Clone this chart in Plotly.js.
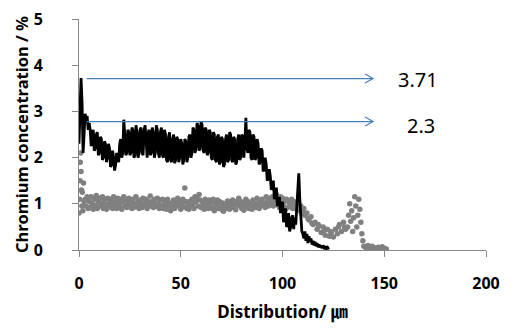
<!DOCTYPE html>
<html>
<head>
<meta charset="utf-8">
<script src="https://cdn.plot.ly/plotly-3.0.1.min.js"></script>
<style>html,body{margin:0;padding:0;background:#fff}#chart{width:517px;height:332px}</style>
</head>
<body>
<div id="chart"></div>
<script>
// Black line: chromium concentration profile (x in µm, y in %)
const lineX = [
0,0.5,1,1.5,2,2.5,3,3.5,4,4.5, 5,5.5,6,6.5,7,7.5,8,8.5,9,9.5,
10,10.5,11,11.5,12,12.5,13,13.5,14,14.5, 15,15.5,16,16.5,17,17.5,18,18.5,19,19.5,
20,20.5,21,21.5,22,22.5,23,23.5,24,24.5, 25,25.5,26,26.5,27,27.5,28,28.5,29,29.5,
30,30.5,31,31.5,32,32.5,33,33.5,34,34.5, 35,35.5,36,36.5,37,37.5,38,38.5,39,39.5,
40,40.5,41,41.5,42,42.5,43,43.5,44,44.5, 45,45.5,46,46.5,47,47.5,48,48.5,49,49.5,
50,50.5,51,51.5,52,52.5,53,53.5,54,54.5, 55,55.5,56,56.5,57,57.5,58,58.5,59,59.5,
60,60.5,61,61.5,62,62.5,63,63.5,64,64.5, 65,65.5,66,66.5,67,67.5,68,68.5,69,69.5,
70,70.5,71,71.5,72,72.5,73,73.5,74,74.5, 75,75.5,76,76.5,77,77.5,78,78.5,79,79.5,
80,80.5,81,81.5,82,82.5,83,83.5,84,84.5, 85,85.5,86,86.5,87,87.5,88,88.5,89,89.5,
90,90.5,91,91.5,92,92.5,93,93.5,94,94.5, 95,95.5,96,96.5,97,97.5,98,98.5,99,99.5,
100,100.5,101,101.5,102,102.5,103,103.5,104,104.5, 105,105.5,106,106.5,107,107.5,108,108.5,109,109.5,
110,110.5,111,111.5,112,112.5,113,113.5,114,114.5, 115,115.5,116,116.5,117,117.5,118,118.5,119,119.5,
120,120.5,121,121.5,122,122.5,123];
const lineY = [
2.3,3.3,3.72,3.2,2.1,2.5,2.95,2.85,2.9,2.6, 2.75,2.6,2.25,2.5,2.6,2.15,2.2,2.5,2.55,2.05,
2.1,2.45,2.4,1.95,2.0,2.35,2.3,1.9,2.0,2.3, 2.2,1.8,1.85,2.15,2.0,1.72,1.85,2.1,2.05,1.9,
2.3,2.4,2.0,2.1,2.82,2.5,2.05,2.1,2.6,2.55, 2.05,2.1,2.65,2.6,2.0,2.05,2.7,2.55,2.0,2.1,
2.6,2.65,2.1,2.05,2.6,2.7,2.15,2.0,2.55,2.6, 2.05,2.1,2.65,2.55,2.0,2.1,2.7,2.6,2.1,2.0,
2.55,2.65,2.05,2.0,2.6,2.5,1.95,1.9,2.45,2.55, 1.95,1.9,2.4,2.5,1.88,1.95,2.45,2.4,1.9,2.0,
2.4,2.3,1.85,1.95,2.4,2.35,1.9,2.0,2.45,2.5, 2.0,2.1,2.65,2.6,2.1,2.2,2.75,2.7,2.15,2.2,
2.78,2.7,2.15,2.1,2.65,2.6,2.05,2.1,2.6,2.55, 2.0,1.95,2.55,2.5,1.95,1.9,2.45,2.5,1.85,1.9,
2.45,2.4,1.8,1.85,2.4,2.5,1.9,1.95,2.55,2.5, 1.95,1.9,2.45,2.4,1.85,1.9,2.4,2.5,1.95,2.0,
2.5,2.45,2.0,2.3,2.86,2.2,2.1,2.6,2.55,2.0, 1.95,2.5,2.45,1.95,2.0,2.4,2.3,1.85,1.9,2.2,
2.15,1.7,1.75,2.0,1.85,1.5,1.55,1.75,1.6,1.3, 1.4,1.5,1.1,1.2,1.35,0.95,1.05,1.15,0.8,0.95,
1.05,0.6,0.7,0.9,0.5,0.55,0.8,0.4,0.5,0.7, 0.75,0.45,0.7,0.55,0.9,1.3,1.66,1.1,0.6,0.4,
0.35,0.25,0.4,0.2,0.35,0.15,0.3,0.18,0.25,0.12, 0.2,0.1,0.18,0.08,0.15,0.06,0.12,0.05,0.1,0.04,
0.1,0.05,0.08,0.03,0.06,0.04,0.05];

// Gray dots: second profile (x in µm, y in %)
const dotX = [
0,0.3,0.5,0.6,0.8,1.0,1.2,1.4,1.6,1.9,2.2,2.5,3,3.5,4,4.5,
5,5.5,6,6.5,7,7.5,8,8.5,9,9.5, 10,10.5,11,11.5,12,12.5,13,13.5,14,14.5,
15,15.5,16,16.5,17,17.5,18,18.5,19,19.5, 20,20.5,21,21.5,22,22.5,23,23.5,24,24.5,
25,25.5,26,26.5,27,27.5,28,28.5,29,29.5, 30,30.5,31,31.5,32,32.5,33,33.5,34,34.5,
35,35.5,36,36.5,37,37.5,38,38.5,39,39.5, 40,40.5,41,41.5,42,42.5,43,43.5,44,44.5,
45,45.5,46,46.5,47,47.5,48,48.5,49,49.5, 50,50.5,51,51.5,52,52.5,53,53.5,54,54.5,
55,55.5,56,56.5,57,57.5,58,58.5,59,59.5, 60,60.5,61,61.5,62,62.5,63,63.5,64,64.5,
65,65.5,66,66.5,67,67.5,68,68.5,69,69.5, 70,70.5,71,71.5,72,72.5,73,73.5,74,74.5,
75,75.5,76,76.5,77,77.5,78,78.5,79,79.5, 80,80.5,81,81.5,82,82.5,83,83.5,84,84.5,
85,85.5,86,86.5,87,87.5,88,88.5,89,89.5, 90,90.5,91,91.5,92,92.5,93,93.5,94,94.5,
95,95.5,96,96.5,97,97.5,98,98.5,99,99.5, 100,100.5,101,101.5,102,102.5,103,103.5,104,104.5,
105,105.5,106,106.5,107,107.5,108,108.5,109,109.5,
110,110.5,111,112,112.5,113,114,114.5,115,116,117,117.5,118,119,120,120.5,121,122,123,123.5,
124,125,126,127,127.5,128,129,130,130.5,131,132,132.5,133,133.5,134,134.5,135,135.5,136,136.5,
137,137.5,138,138.5,139,139.5,140,141,142,143,144,145,146,147,148,149,150,151];
const dotY = [
0.8,1.1,1.5,1.9,2.1,1.7,1.3,0.95,1.25,0.85,1.45,1.05,1.1,0.95,1.15,0.9,
1.05,0.92,1.15,1.0,0.88,1.1,0.97,1.18,0.9,1.05, 1.12,0.95,1.02,1.15,0.9,1.08,0.98,0.88,1.12,1.0,
0.93,1.1,1.02,0.9,1.15,0.98,1.06,0.9,1.12,1.0, 0.95,1.1,0.88,1.05,1.15,0.95,1.08,0.92,1.0,1.12,
0.96,1.05,0.9,1.1,1.0,0.93,1.15,0.98,1.05,0.9, 1.08,1.0,0.92,1.12,1.0,0.95,1.1,0.9,1.05,0.98,
1.17,0.95,1.05,0.92,1.1,1.0,0.94,1.12,1.0,0.9, 1.08,0.96,1.1,0.9,1.05,0.98,0.88,1.1,0.95,1.02,
0.85,1.0,0.92,1.08,0.9,1.05,0.98,1.12,0.95,1.05, 0.88,1.0,1.1,0.93,1.34,1.05,0.9,1.0,0.88,1.05,
0.95,1.1,1.0,0.9,1.15,1.05,1.12,0.95,1.2,1.08, 0.92,1.05,1.0,0.88,1.1,0.95,1.02,0.9,1.08,0.96,
1.05,0.9,1.1,0.85,1.0,0.92,1.08,0.9,1.05,0.98, 0.88,1.02,0.84,0.95,1.0,0.9,1.06,0.95,0.88,1.03,
0.92,1.08,0.95,1.0,0.87,1.05,0.98,1.12,0.95,1.05, 0.9,1.02,0.86,0.97,1.1,0.93,1.05,0.9,1.0,0.95,
0.88,1.08,0.95,1.0,0.92,1.12,1.0,0.9,1.05,0.95, 1.1,0.98,1.0,0.92,1.15,1.05,0.95,1.12,1.0,1.08,
1.15,0.95,1.1,1.02,1.2,0.98,1.08,0.92,1.15,1.0, 1.12,0.95,1.05,0.88,1.1,0.92,1.05,1.0,0.95,1.1,
0.9,1.05,0.95,1.0,0.88,1.02,0.92,0.85,0.95,0.8,
0.82,0.9,0.75,0.8,0.68,0.65,0.72,0.58,0.55,0.6,0.45,0.55,0.52,0.38,0.5,0.42,0.32,0.45,0.3,0.4,
0.38,0.28,0.45,0.35,0.5,0.55,0.4,0.6,0.5,0.45,0.5,0.75,1.0,0.62,0.85,0.4,0.7,1.15,0.95,0.5,
0.75,1.1,0.88,0.6,0.35,0.2,0.08,0.05,0.1,0.03,0.08,0.05,0.02,0.06,0.03,0.07,0.04,0.02];

// Marker arrows and their labels
const arrowLevels = [3.71, 2.78];
const arrowStart = 3.8;
const arrowEnd = 144.5;
const arrowLabels = ['3.71', '2.3'];
const labelX = [0.833, 0.840];
const labelShift = [-1, -4];

const xTicks = [0, 50, 100, 150, 200];
const yTicks = [0, 1, 2, 3, 4, 5];

const FONT = 'Noto Sans, Noto Sans CJK KR, sans-serif';
const axisColor = '#868686';

const shapes = [];
const annotations = [];
arrowLevels.forEach((lv, i) => {
  shapes.push({type: 'line', xref: 'x', yref: 'y', x0: arrowStart, x1: arrowEnd, y0: lv, y1: lv,
    line: {color: '#4a7ebb', width: 1.2}});
  shapes.push({type: 'path', xref: 'x', yref: 'y', xsizemode: 'pixel', ysizemode: 'pixel',
    xanchor: arrowEnd, yanchor: lv, path: 'M-8,-4.5 L0,0 L-8,4.5',
    line: {color: '#4a7ebb', width: 1.2}});
  annotations.push({xref: 'paper', yref: 'y', x: labelX[i], y: lv, yshift: labelShift[i],
    text: arrowLabels[i], showarrow: false, xanchor: 'center', yanchor: 'middle',
    font: {family: FONT, size: 20, color: '#000'}});
});

const data = [
  {x: dotX, y: dotY, mode: 'markers', type: 'scatter',
   marker: {color: '#808080', size: 5.5}, hoverinfo: 'skip'},
  {x: lineX, y: lineY, mode: 'lines', type: 'scatter',
   line: {color: '#000', width: 2.8}, hoverinfo: 'skip'}
];

const layout = {
  width: 517, height: 332,
  margin: {l: 79, r: 31, t: 19, b: 82},
  paper_bgcolor: '#fff', plot_bgcolor: '#fff',
  showlegend: false,
  font: {family: FONT, color: '#000'},
  xaxis: {
    range: [0, 200], tickvals: xTicks, ticktext: xTicks.map(String),
    showgrid: false, zeroline: false, showline: true, linecolor: axisColor, linewidth: 1,
    ticks: 'outside', ticklen: 6, tickcolor: axisColor,
    tickfont: {family: FONT, size: 16, color: '#000', weight: 'bold'},
    ticklabelstandoff: 13,
    title: {text: '<b>Distribution/ ㎛</b>', font: {family: FONT, size: 17, color: '#000'}, standoff: 12}
  },
  yaxis: {
    range: [0, 5], tickvals: yTicks, ticktext: yTicks.map(String),
    showgrid: false, zeroline: false, showline: true, linecolor: axisColor, linewidth: 1,
    ticks: 'outside', ticklen: 6, tickcolor: axisColor,
    tickfont: {family: FONT, size: 16, color: '#000', weight: 'bold'},
    ticklabelstandoff: 26,
    title: {text: '<b>Chromium concentration / %</b>', font: {family: FONT, size: 16.5, color: '#000'}, standoff: 0}
  },
  shapes: shapes,
  annotations: annotations
};

Plotly.newPlot('chart', data, layout, {displayModeBar: false, staticPlot: true});
</script>
</body>
</html>
